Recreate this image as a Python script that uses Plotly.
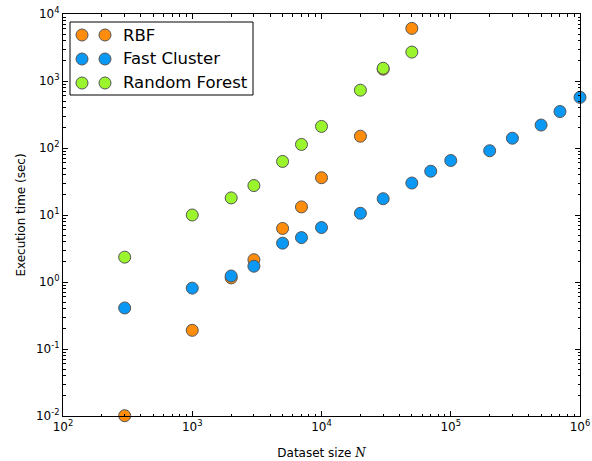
import plotly.graph_objects as go

# ---- data ----
rbf_n = [300, 1000, 2000, 3000, 5000, 7000, 10000, 20000, 30000, 50000]
rbf_t = [0.0101, 0.19, 1.15, 2.15, 6.3, 13.2, 36, 150, 1500, 6100]

fc_n = [300, 1000, 2000, 3000, 5000, 7000, 10000, 20000, 30000, 50000, 70000,
        100000, 200000, 300000, 500000, 700000, 1000000]
fc_t = [0.41, 0.81, 1.23, 1.72, 3.8, 4.6, 6.5, 10.6, 17.5, 30, 45,
        65, 91, 140, 220, 350, 570]

rf_n = [300, 1000, 2000, 3000, 5000, 7000, 10000, 20000, 30000, 50000]
rf_t = [2.35, 10, 18, 27.5, 63, 113, 210, 730, 1550, 2700]

series_names = ["RBF", "Fast Cluster", "Random Forest"]
colors = ["#ff8c0a", "#0a98f5", "#9bf52d"]

x_tickvals = [1e2, 1e3, 1e4, 1e5, 1e6]
x_ticktext = ["10<sup>2</sup>", "10<sup>3</sup>", "10<sup>4</sup>", "10<sup>5</sup>", "10<sup>6</sup>"]
y_tickvals = [1e-2, 1e-1, 1e0, 1e1, 1e2, 1e3, 1e4]
y_ticktext = ["10<sup>-2</sup>", "10<sup>-1</sup>", "10<sup>0</sup>", "10<sup>1</sup>",
              "10<sup>2</sup>", "10<sup>3</sup>", "10<sup>4</sup>"]


def minor_positions(lo, hi):
    out = []
    for e in range(lo, hi):
        for m in range(2, 10):
            out.append(m * 10.0 ** e)
    return out


FONT = "DejaVu Sans"
fig = go.Figure()
for name, xs, ys, c in zip(series_names, [rbf_n, fc_n, rf_n], [rbf_t, fc_t, rf_t], colors):
    fig.add_trace(go.Scatter(
        x=xs, y=ys, mode="markers", name=name, showlegend=False,
        marker=dict(size=12, color=c, line=dict(color="#555555", width=1)),
        cliponaxis=False,
    ))

axis_common = dict(
    type="log", showgrid=False, zeroline=False, showline=True, linecolor="black",
    linewidth=1, mirror="ticks", ticks="inside", ticklen=5, tickcolor="black",
    tickfont=dict(family=FONT, size=12, color="black"), automargin=False,
)

fig.update_xaxes(range=[2, 6], tickmode="array", tickvals=x_tickvals, ticktext=x_ticktext,
                 minor=dict(tickmode="array", tickvals=minor_positions(2, 6), ticks="inside",
                            ticklen=2.5, tickcolor="black", showgrid=False),
                 title=dict(text='Dataset size <span style="font-family:DejaVu Serif"><i>N</i></span>',
                            font=dict(family=FONT, size=12, color="black")),
                 **axis_common)
fig.update_yaxes(range=[-2, 4], tickmode="array", tickvals=y_tickvals, ticktext=y_ticktext,
                 minor=dict(tickmode="array", tickvals=minor_positions(-2, 4), ticks="inside",
                            ticklen=2.5, tickcolor="black", showgrid=False),
                 title=dict(text="Execution time (sec)",
                            font=dict(family=FONT, size=12, color="black"), standoff=7),
                 **axis_common)

# manual legend (matplotlib style with two markers per entry)
L, R, T, B = 70, 253, 22, 95
W, H = 592, 461
ml, mr, mt, mb = 63, 12, 14, 45
pw, ph = W - ml - mr, H - mt - mb


def px(x):
    return (x - ml) / pw


def py(y):
    return 1 - (y - mt) / ph


fig.add_shape(type="rect", xref="paper", yref="paper", x0=px(L), x1=px(R), y0=py(B), y1=py(T),
              line=dict(color="black", width=1), fillcolor="white", layer="above")
rows = [35, 59, 83]
r = 6
for name, c, yy in zip(series_names, colors, rows):
    for xx in [82, 105]:
        fig.add_shape(type="circle", xref="paper", yref="paper",
                      x0=px(xx - r), x1=px(xx + r), y0=py(yy + r), y1=py(yy - r),
                      fillcolor=c, line=dict(color="#555555", width=1), layer="above")
    fig.add_annotation(xref="paper", yref="paper", x=px(121), y=py(yy), text=name,
                       showarrow=False, xanchor="left", yanchor="middle",
                       font=dict(family=FONT, size=16.5, color="black"))

fig.update_layout(
    width=W, height=H, margin=dict(l=ml, r=mr, t=mt, b=mb),
    plot_bgcolor="white", paper_bgcolor="white",
    font=dict(family=FONT, color="black"),
)
post = (
    "document.documentElement.style.margin='0';"
    "document.documentElement.style.padding='0';"
    "document.documentElement.style.overflow='hidden';"
    "document.body.style.margin='0';"
    "document.body.style.padding='0';"
    "document.body.style.overflow='hidden';"
)
fig.write_html("out.html", config={"displayModeBar": False}, post_script=post)
